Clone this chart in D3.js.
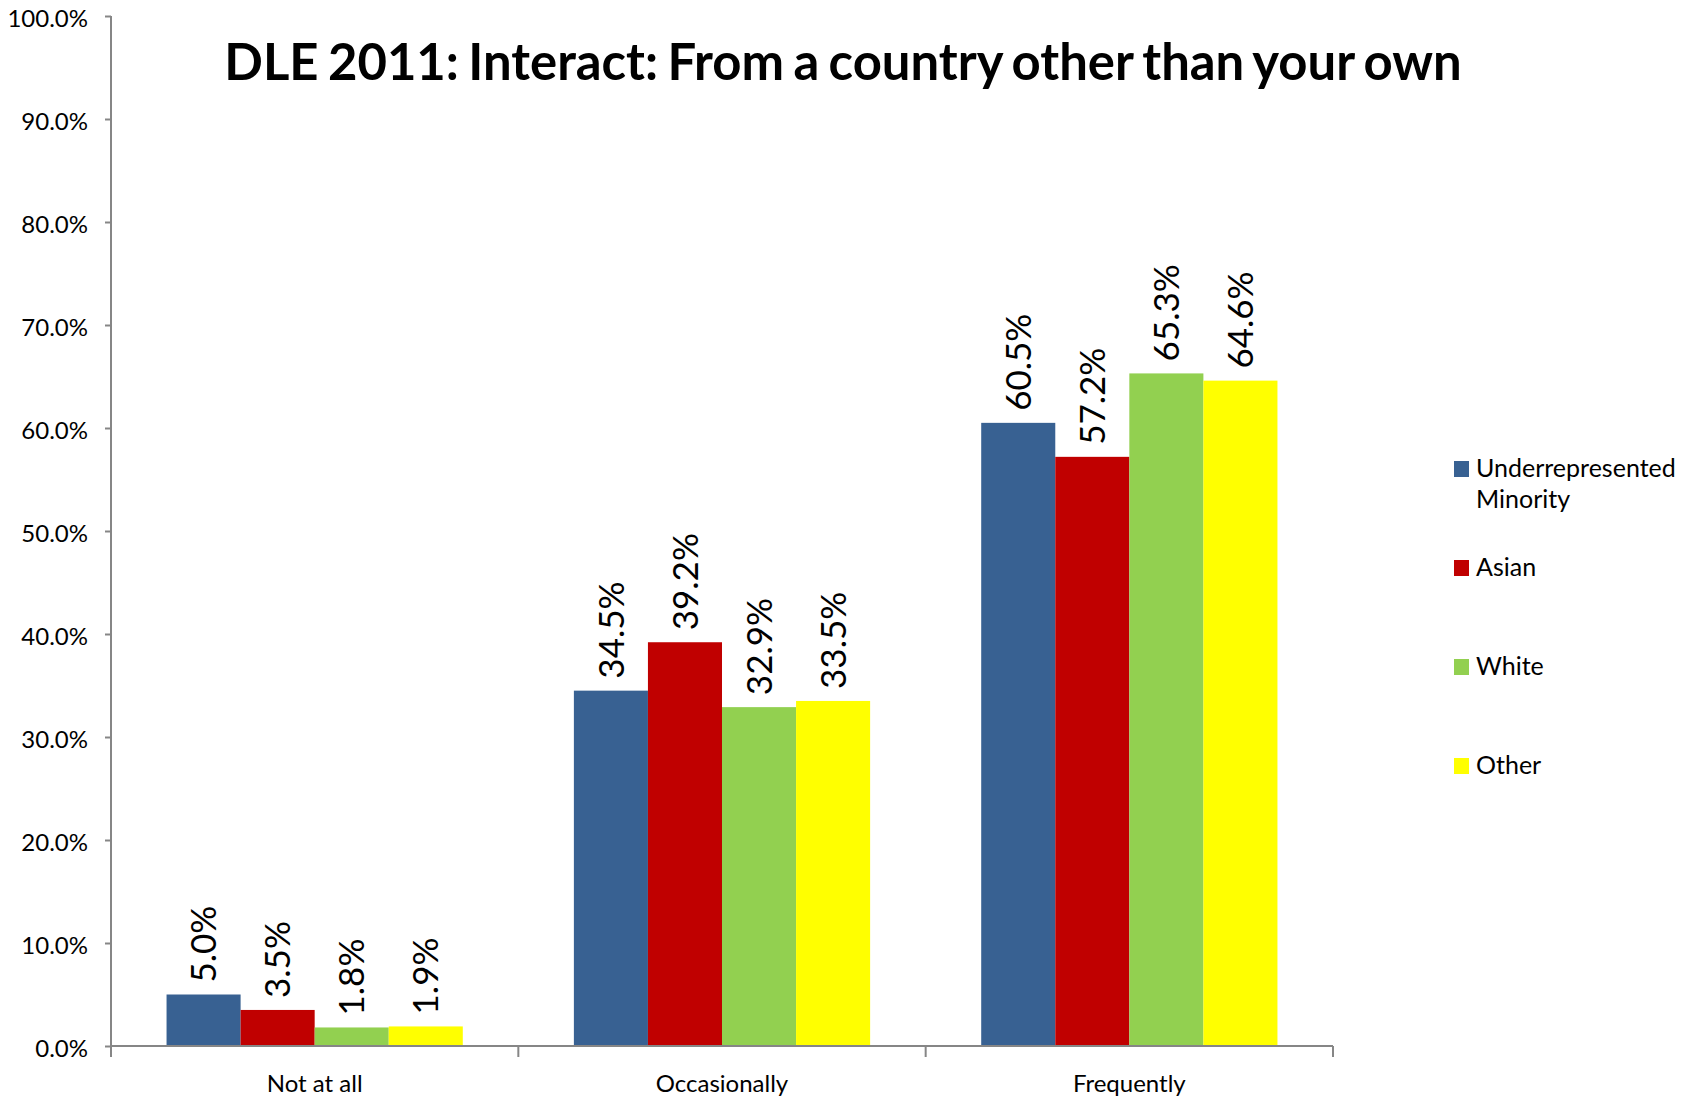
<!DOCTYPE html>
<html>
<head>
<meta charset="utf-8">
<script src="https://cdn.jsdelivr.net/npm/d3@7"></script>
<style>
  html, body { margin: 0; padding: 0; background: #ffffff; }
  svg { display: block; }
  text { font-family: Lato, "Open Sans", sans-serif; fill: #000; }
</style>
</head>
<body>
<svg id="chart" width="1690" height="1097"></svg>
<script>
// ---- data ----
const titleText = "DLE 2011: Interact: From a country other than your own";
const categories = ["Not at all", "Occasionally", "Frequently"];
const seriesNames = ["Underrepresented Minority", "Asian", "White", "Other"];
const seriesColors = ["#386192", "#C00000", "#92D050", "#FFFF00"];
const underrepresented = [5.0, 34.5, 60.5];
const asian = [3.5, 39.2, 57.2];
const white = [1.8, 32.9, 65.3];
const other = [1.9, 33.5, 64.6];
const yTicks = [0, 10, 20, 30, 40, 50, 60, 70, 80, 90, 100];

const seriesValues = [underrepresented, asian, white, other];

// ---- layout ----
const svg = d3.select("#chart");
const plotLeft = 111, plotRight = 1333, plotTop = 16, plotBottom = 1046;
const axisColor = "#868686";

const x0 = d3.scaleBand().domain(categories).range([plotLeft, plotRight]).paddingInner(0).paddingOuter(0);
const x1 = d3.scaleBand().domain(seriesNames).range([0, x0.bandwidth()]).paddingInner(0).paddingOuter(0.75);
const y = d3.scaleLinear().domain([0, 100]).range([plotBottom, plotTop]);

// title
const title = svg.append("text")
  .attr("x", 843).attr("y", 80)
  .attr("text-anchor", "middle")
  .style("font-weight", "bold")
  .style("font-size", "45px")
  .style("word-spacing", "-3px")
  .text(titleText);
const tw = title.node().getComputedTextLength();
title.style("font-size", (45 * 1234 / tw).toFixed(2) + "px");

// y axis
const yAxis = svg.append("g")
  .attr("transform", `translate(${plotLeft},0)`)
  .call(d3.axisLeft(y).tickValues(yTicks).tickSize(6).tickPadding(17)
    .tickFormat(d => d.toFixed(1) + "%"));
yAxis.selectAll("path,line").attr("stroke", axisColor).attr("stroke-width", 2);
yAxis.select("path.domain").attr("d", `M0,${plotTop}V${plotBottom + 11}`);
yAxis.selectAll("text").style("font-size", "24px").style("font-family", "Lato, sans-serif")
  .attr("dy", "0.45em").attr("fill", "#000");

// bars
const groups = svg.append("g").selectAll("g")
  .data(categories).join("g")
  .attr("transform", d => `translate(${x0(d)},0)`);

groups.selectAll("rect")
  .data((c, ci) => seriesNames.map((s, si) => ({ s, si, v: seriesValues[si][ci] })))
  .join("rect")
  .attr("x", d => x1(d.s))
  .attr("width", x1.bandwidth())
  .attr("y", d => y(d.v))
  .attr("height", d => y(0) - y(d.v))
  .attr("fill", d => seriesColors[d.si]);

groups.selectAll("text.lbl")
  .data((c, ci) => seriesNames.map((s, si) => ({ s, si, v: seriesValues[si][ci] })))
  .join("text")
  .attr("class", "lbl")
  .attr("transform", d => `translate(${x1(d.s) + x1.bandwidth() / 2},${y(d.v) - 12}) rotate(-90)`)
  .attr("dy", "0.36em")
  .style("font-size", "35px")
  .text(d => d.v.toFixed(1) + "%");

// x axis
const xg = svg.append("g");
xg.append("line").attr("x1", plotLeft).attr("x2", plotRight).attr("y1", plotBottom).attr("y2", plotBottom)
  .attr("stroke", axisColor).attr("stroke-width", 2);
const bounds = categories.map(c => x0(c) + x0.bandwidth());
xg.selectAll("line.tick").data(bounds).join("line").attr("class", "tick")
  .attr("x1", d => d).attr("x2", d => d).attr("y1", plotBottom).attr("y2", plotBottom + 11)
  .attr("stroke", axisColor).attr("stroke-width", 2);
xg.selectAll("text").data(categories).join("text")
  .attr("x", d => x0(d) + x0.bandwidth() / 2)
  .attr("y", 1092)
  .attr("text-anchor", "middle")
  .style("font-size", "24px")
  .text(d => d);

// legend
const legendTops = [461, 560, 659, 758];
const lg = svg.append("g").selectAll("g").data(seriesNames).join("g")
  .attr("transform", (d, i) => `translate(1454,${legendTops[i]})`);
lg.append("rect").attr("width", 15).attr("height", 16).attr("fill", (d, i) => seriesColors[i]);
lg.append("text").attr("x", 22).attr("y", 16).style("font-size", "25px")
  .each(function (d) {
    const t = d3.select(this);
    const parts = d === "Underrepresented Minority" ? ["Underrepresented", "Minority"] : [d];
    parts.forEach((p, k) => t.append("tspan").attr("x", 22).attr("dy", k === 0 ? 0 : 31).text(p));
  });
</script>
</body>
</html>
